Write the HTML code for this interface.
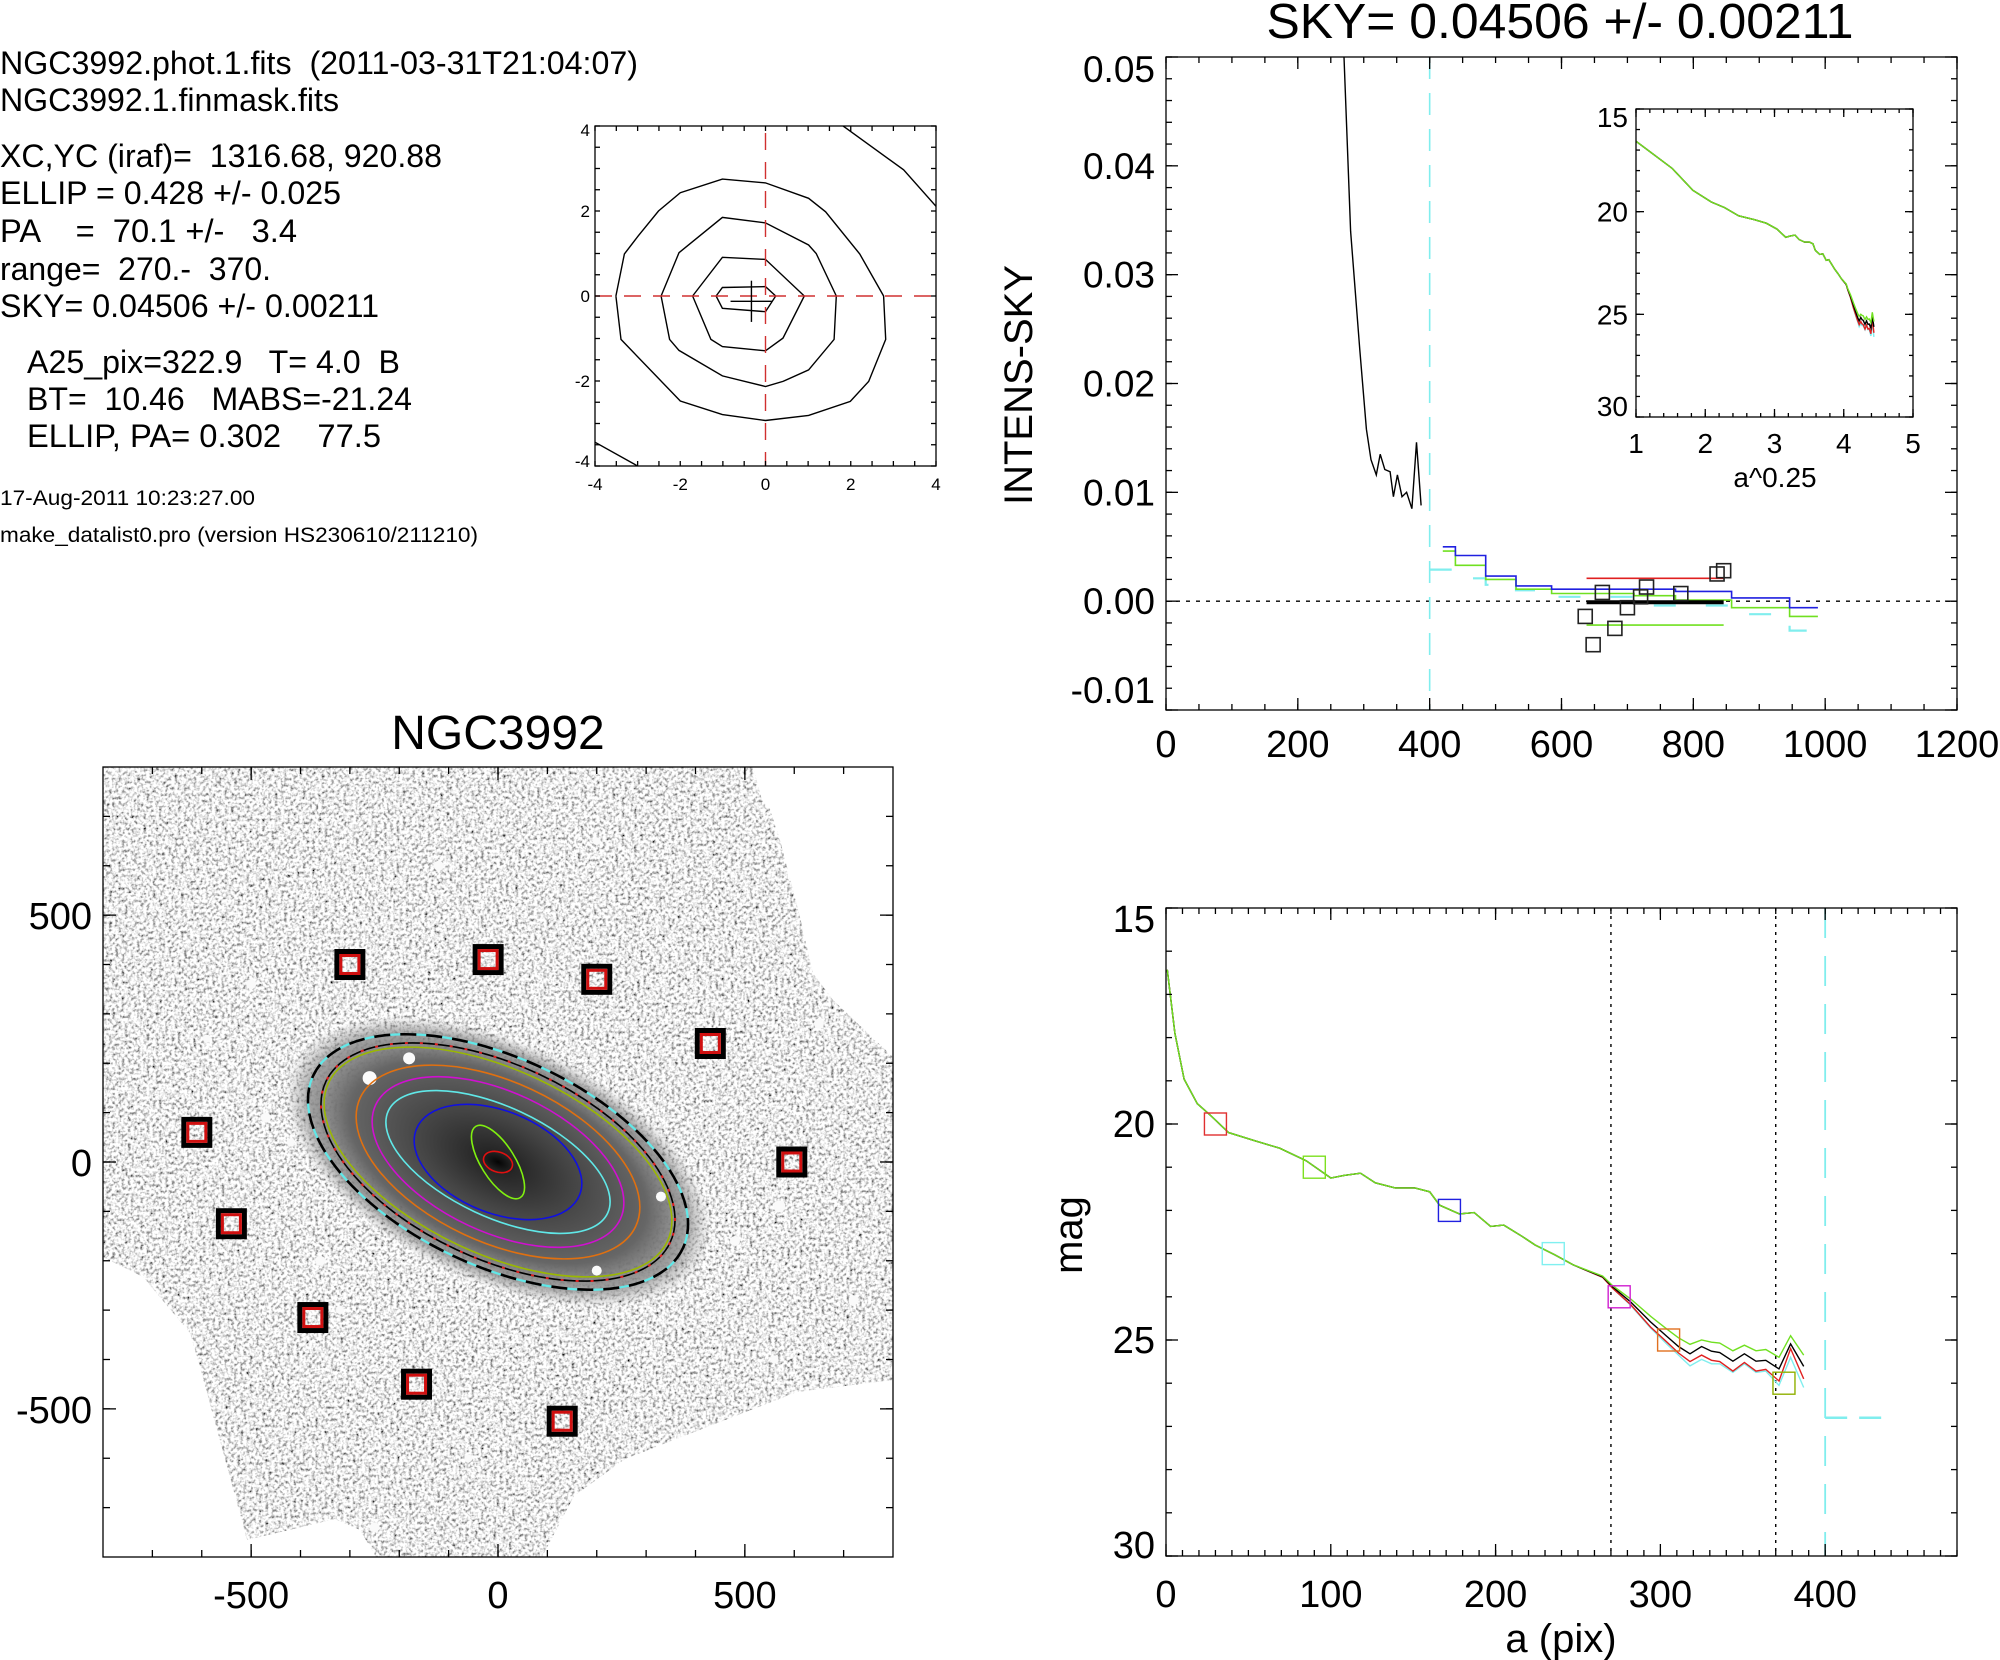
<!DOCTYPE html>
<html><head><meta charset="utf-8">
<style>
html,body{margin:0;padding:0;background:#fff;}
svg{display:block;font-family:"Liberation Sans",Arial,sans-serif;}
</style></head>
<body>
<svg id="fig" width="2000" height="1660" viewBox="0 0 2000 1660" xmlns="http://www.w3.org/2000/svg">
<defs>
  <filter id="noise" x="0" y="0" width="100%" height="100%">
    <feTurbulence type="fractalNoise" baseFrequency="0.32" numOctaves="2" seed="4"/>
    <feColorMatrix type="matrix" values="2.3 0 0 0 -0.32  2.3 0 0 0 -0.32  2.3 0 0 0 -0.32  0 0 0 0 1"/>
  </filter>
  <radialGradient id="galgrad" cx="0.5" cy="0.5" r="0.5">
    <stop offset="0" stop-color="#050505"/>
    <stop offset="0.08" stop-color="#262626"/>
    <stop offset="0.35" stop-color="#444"/>
    <stop offset="0.7" stop-color="#666"/>
    <stop offset="0.88" stop-color="#8a8a8a" stop-opacity="0.8"/>
    <stop offset="1" stop-color="#a0a0a0" stop-opacity="0"/>
  </radialGradient>
  <clipPath id="imgclip"><polygon points="103,767 753,767 762,800 770,809 780,840 800,917 813,973 833,1000 893,1057 893,1380 797,1392 702,1429 625,1459 574,1496 542,1557 376,1557 360,1530 335,1519 247,1540 200,1367 190,1333 143,1277 103,1257"/></clipPath>
  <clipPath id="cliptr"><rect x="1166" y="57" width="791" height="653"/></clipPath>
  <clipPath id="clipin"><rect x="1636" y="109" width="277" height="308"/></clipPath>
  <clipPath id="clipbr"><rect x="1166" y="908" width="791" height="648"/></clipPath>
  <clipPath id="clipct"><rect x="595" y="126" width="341" height="340"/></clipPath>
</defs>

<g font-size="32" fill="#000" xml:space="preserve">
  <text x="0" y="74" textLength="638" lengthAdjust="spacingAndGlyphs" xml:space="preserve">NGC3992.phot.1.fits  (2011-03-31T21:04:07)</text>
  <text x="0" y="111" textLength="339" lengthAdjust="spacingAndGlyphs">NGC3992.1.finmask.fits</text>
  <text x="0" y="167" textLength="442" lengthAdjust="spacingAndGlyphs" xml:space="preserve">XC,YC (iraf)=  1316.68, 920.88</text>
  <text x="0" y="204" textLength="341" lengthAdjust="spacingAndGlyphs">ELLIP = 0.428 +/- 0.025</text>
  <text x="0" y="242" textLength="297" lengthAdjust="spacingAndGlyphs" xml:space="preserve">PA    =  70.1 +/-   3.4</text>
  <text x="0" y="280" textLength="271" lengthAdjust="spacingAndGlyphs" xml:space="preserve">range=  270.-  370.</text>
  <text x="0" y="317" textLength="379" lengthAdjust="spacingAndGlyphs">SKY= 0.04506 +/- 0.00211</text>
  <text x="27" y="373" textLength="373" lengthAdjust="spacingAndGlyphs" xml:space="preserve">A25_pix=322.9   T= 4.0  B</text>
  <text x="27" y="410" textLength="385" lengthAdjust="spacingAndGlyphs" xml:space="preserve">BT=  10.46   MABS=-21.24</text>
  <text x="27" y="447" textLength="354" lengthAdjust="spacingAndGlyphs" xml:space="preserve">ELLIP, PA= 0.302    77.5</text>
  <text x="0" y="505" font-size="21" textLength="255" lengthAdjust="spacingAndGlyphs">17-Aug-2011 10:23:27.00</text>
  <text x="0" y="542" font-size="21" textLength="478" lengthAdjust="spacingAndGlyphs">make_datalist0.pro (version HS230610/211210)</text>
</g>

<g id="contour"></g>
<g id="imgplot"></g>
<g id="skyplot"></g>
<g id="inset"></g>
<g id="magplot"></g>
</svg>

<script>
// ---------- DATA ----------
const contour0 = [[-3.51,0],[-3.31,0.99],[-2.99,1.41],[-2.51,2.0],[-2.0,2.43],[-1.01,2.75],[0,2.66],[1.01,2.3],[1.41,1.98],[2.21,0.99],[2.77,0],[2.82,-1.02],[2.42,-2.01],[1.99,-2.48],[1.01,-2.81],[0,-2.93],[-1.01,-2.79],[-2.0,-2.47],[-2.51,-1.94],[-3.39,-1.02],[-3.51,0]];
const contour1 = [[-2.45,0],[-2.03,1.02],[-1.01,1.85],[0,1.72],[1.01,1.2],[1.19,1.0],[1.66,0],[1.61,-1.02],[1.01,-1.74],[0.41,-2.01],[0,-2.13],[-1.01,-1.88],[-2.03,-1.28],[-2.25,-1.02],[-2.45,0]];
const contour2 = [[-1.71,0],[-1.01,0.91],[0,0.86],[0.91,0],[0.41,-0.99],[0,-1.29],[-1.01,-1.19],[-1.28,-1.02],[-1.71,0]];
const contour3 = [[-1.16,0],[-1.01,0.2],[0,0.22],[0.24,0],[0,-0.37],[-1.01,-0.29],[-1.16,0]];
const contourTR = [[1.82,4],[3.24,2.97],[4,2.11]];
const contourBL = [[-4,-3.44],[-3.0,-4]];
const contourTicks = [-4,-2,0,2,4];

const boxX = [-300,-20,200,430,-610,595,-540,-375,-165,130];
const boxY = [400,410,370,240,60,0,-125,-315,-450,-525];
const imgTicks = [-500,0,500];

const profA = [265,270,280,294,304,311,319,325,332,340,345,351,358,365,373,380,387];
const profI = [0.060,0.050,0.034,0.0231,0.0158,0.0130,0.0116,0.0135,0.0121,0.0119,0.0096,0.0116,0.0096,0.0100,0.0085,0.0146,0.0088];
const stepEdges = [420,439,485,531,585,710,773,858,946,989];
const stepBlue  = [0.0050,0.0042,0.0023,0.0014,0.0011,0.0011,0.0009,0.0003,-0.0006];
const stepGreen = [0.0046,0.0033,0.0020,0.0011,0.0007,0.0005,0.0001,-0.0006,-0.0014];
const cyanEdges = [400,439,485,531,585,710,858,946,989];
const stepCyan  = [0.0029,0.0021,0.0015,0.0010,0.0004,-0.0004,-0.0012,-0.0027];
const skyBoxA = [636,648,662,681,700,720,729,781,836,846];
const skyBoxI = [-0.0014,-0.0040,0.0008,-0.0025,-0.0006,0.0004,0.0013,0.0007,0.0025,0.0028];
const skyRange = [638,846];
const skyRedLevel = 0.0021, skyGreenLevel = -0.0022, skyBlackLevel = -0.0001;
const skyXTicks = [0,200,400,600,800,1000,1200];
const skyYTicks = [-0.01,0.00,0.01,0.02,0.03,0.04,0.05];

const aPix = [0.8,5.4,11,19,27,38,54,69,85,100,108,118,127,139,151,160,166,178,187,197,205,216,224,236,247,265,271,282,294,304,311,318,325,331,336,344,351,358,364,372,379,387];
const magBlack = [16.43,17.9,18.96,19.53,19.8,20.2,20.39,20.56,20.85,21.25,21.19,21.14,21.36,21.48,21.48,21.57,21.88,22.08,22.05,22.37,22.34,22.6,22.8,23.03,23.26,23.54,23.77,24.12,24.58,24.92,25.15,25.32,25.15,25.26,25.29,25.49,25.32,25.49,25.47,25.67,25.09,25.61];
const magGreen = [16.43,17.9,18.96,19.53,19.8,20.2,20.39,20.56,20.85,21.25,21.19,21.14,21.36,21.48,21.48,21.57,21.88,22.08,22.05,22.37,22.34,22.6,22.8,23.03,23.26,23.52,23.74,24.05,24.45,24.75,24.95,25.1,25.0,25.05,25.07,25.25,25.12,25.25,25.22,25.4,24.9,25.35];
const magRed = [16.43,17.9,18.96,19.53,19.8,20.2,20.39,20.56,20.85,21.25,21.19,21.14,21.36,21.48,21.48,21.57,21.88,22.08,22.05,22.37,22.34,22.6,22.8,23.03,23.26,23.55,23.8,24.18,24.7,25.05,25.3,25.5,25.35,25.47,25.5,25.72,25.52,25.72,25.68,25.95,25.2,25.9];
const magCyan = [16.43,17.9,18.96,19.53,19.8,20.2,20.39,20.56,20.85,21.25,21.19,21.14,21.36,21.48,21.48,21.57,21.88,22.08,22.05,22.37,22.34,22.6,22.8,23.03,23.26,23.55,23.8,24.2,24.72,25.1,25.35,25.6,25.45,25.55,25.55,25.75,25.55,25.75,25.72,26.05,25.4,26.1];
const markA = [30,90,172,235,275,305,375];
const markMag = [20.0,21.0,22.0,23.0,24.0,25.0,26.0];
const markColor = ["#e03030","#7ee020","#2020e0","#80f0f0","#d020d0","#e07020","#90b000"];
const magXTicks = [0,100,200,300,400];
const magYTicks = [15,20,25,30];
const insetXTicks = [1,2,3,4,5];
const insetYTicks = [15,20,25,30];
const rangeLines = [270,370];
const skyCut = 400, skyMag = 26.8, skyMagEnd = 435;

// ---------- HELPERS ----------
const NS = "http://www.w3.org/2000/svg";
function mk(parent, tag, attrs, text){
  const e = document.createElementNS(NS, tag);
  for (const k in attrs) e.setAttribute(k, attrs[k]);
  if (text !== undefined) e.textContent = text;
  parent.appendChild(e);
  return e;
}
function lin(d0,d1,p0,p1){ return v => p0 + (v-d0)*(p1-p0)/(d1-d0); }
function frame(g, x0,y0,x1,y1){
  const r = mk(g,'rect',{x:x0,y:y0,width:x1-x0,height:y1-y0,fill:'none',stroke:'#000','stroke-width':1.3});
  
  
}
function ticksX(g, sx, vals, y0, y1, len){
  vals.forEach(v=>{
    const x = sx(v);
    const t1 = mk(g,'line',{x1:x,x2:x,y1:y1,y2:y1-len,stroke:'#000','stroke-width':1.3});
    
    
    const t2 = mk(g,'line',{x1:x,x2:x,y1:y0,y2:y0+len,stroke:'#000','stroke-width':1.3});
    
    
  });
}
function ticksY(g, sy, vals, x0, x1, len){
  vals.forEach(v=>{
    const y = sy(v);
    const t1 = mk(g,'line',{x1:x0,x2:x0+len,y1:y,y2:y,stroke:'#000','stroke-width':1.3});
    
    
    const t2 = mk(g,'line',{x1:x1,x2:x1-len,y1:y,y2:y,stroke:'#000','stroke-width':1.3});
    
    
  });
}
function labY(sy, vals, i, topShift, botShift){
  const v = vals[i];
  let y = sy(v);
  const ys = vals.map(sy);
  if (y === Math.min(...ys)) y += topShift;
  if (y === Math.max(...ys)) y -= botShift;
  return y;
}
function range(a,b,s){ const r=[]; for(let v=a; v<=b+1e-9; v+=s) r.push(+v.toFixed(6)); return r; }
function poly(g, xs, ys, sx, sy, attrs){
  const pts = xs.map((x,i)=> sx(x).toFixed(1)+','+sy(ys[i]).toFixed(1)).join(' ');
  return mk(g,'polyline',Object.assign({points:pts,fill:'none'},attrs));
}

// ---------- CONTOUR PLOT ----------
(function(){
  const g = document.getElementById('contour');
  const sx = lin(-4,4,595,936), sy = lin(-4,4,466,126);
  const cg = mk(g,'g',{'clip-path':'url(#clipct)'});
  [contour0,contour1,contour2,contour3,contourTR,contourBL].forEach(c=>{
    const p = poly(cg, c.map(p=>p[0]), c.map(p=>p[1]), sx, sy, {stroke:'#000','stroke-width':1.4});
    
    
  });
  const v = mk(cg,'line',{x1:sx(0),x2:sx(0),y1:sy(4),y2:sy(-4),stroke:'#d03030','stroke-width':1.4,'stroke-dasharray':'17,12','stroke-dashoffset':'-7'});
  
  
  const h = mk(cg,'line',{x1:sx(-4),x2:sx(4),y1:sy(0),y2:sy(0),stroke:'#d03030','stroke-width':1.4,'stroke-dasharray':'17,12'});
  
  
  const c1 = mk(cg,'line',{x1:sx(-0.33),x2:sx(-0.33),y1:sy(0.36),y2:sy(-0.61),stroke:'#000','stroke-width':1.4});
  
  
  const c2 = mk(cg,'line',{x1:sx(-0.82),x2:sx(0.16),y1:sy(-0.125),y2:sy(-0.125),stroke:'#000','stroke-width':1.4});
  
  
  frame(g,595,126,936,466);
  ticksX(g,sx,range(-4,4,0.5),126,466,5);
  ticksY(g,sy,range(-4,4,0.5),595,936,5);
  contourTicks.forEach((v,i)=>{
    const t = mk(g,'text',{x:sx(v),y:490,'font-size':17,'text-anchor':'middle'},String(v));
    
    
    const u = mk(g,'text',{x:590,y:labY(sy,contourTicks,i,4,5)+6,'font-size':17,'text-anchor':'end'},String(v));
    
    
  });
})();

// ---------- IMAGE PLOT ----------
(function(){
  const g = document.getElementById('imgplot');
  const sx = lin(-800,800,103,893), sy = lin(-800,800,1557,767);
  const ig = mk(g,'g',{'clip-path':'url(#imgclip)'});
  const bg = mk(ig,'rect',{x:103,y:767,width:790,height:790,filter:'url(#noise)'});
  
  
  const cx = sx(0), cy = sy(0);
  const gal = mk(ig,'ellipse',{cx,cy,rx:228,ry:120,fill:'url(#galgrad)',transform:`rotate(25 ${cx} ${cy})`});
  
  
  const stars = [[-500,360,5],[-590,250,4],[-260,170,7],[-180,210,6],[-360,-200,5],[-320,-300,4],[200,-220,5],[570,-90,6],[480,-160,5],[-120,600,5],[200,650,4],[640,550,5],[720,-280,5],[560,-400,4],[-250,-740,5],[-60,-600,4],[-470,90,5],[-420,40,4],[650,280,5],[330,-70,5],[-600,-500,4]];
  stars.forEach(s=>{
    const c = mk(ig,'circle',{cx:sx(s[0]),cy:sy(s[1]),r:s[2],fill:'#fafafa'});
    
    
  });
  const ells = [
    {rx:204,ry:104,rot:25,stroke:'#000',dash:'16,10'},
    {rx:190,ry:97,rot:25,stroke:'#000',dash:null},
    {rx:187,ry:92,rot:25,stroke:'#9ab800',dash:null},
    {rx:152,ry:80,rot:25,stroke:'#e07010',dash:null},
    {rx:135,ry:70,rot:25,stroke:'#d010d0',dash:null},
    {rx:121,ry:55,rot:25,stroke:'#60e8e8',dash:null},
    {rx:88,ry:51,rot:22,stroke:'#1010e0',dash:null},
    {rx:42,ry:17,rot:58,stroke:'#80f010',dash:null},
    {rx:15,ry:10,rot:20,stroke:'#e01010',dash:null}
  ];
  const e0 = mk(g,'ellipse',{cx,cy,rx:204,ry:104,fill:'none',stroke:'#60e8e8','stroke-width':2.2,transform:`rotate(25 ${cx} ${cy})`});
  
  
  ells.forEach(e=>{
    const el = mk(g,'ellipse',{cx,cy,rx:e.rx,ry:e.ry,fill:'none',stroke:e.stroke,'stroke-width':e.dash?2.6:1.6,transform:`rotate(${e.rot} ${cx} ${cy})`});
    if (e.dash) el.setAttribute('stroke-dasharray',e.dash);
    
    
  });
  const rd = mk(g,'ellipse',{cx,cy,rx:190,ry:97,fill:'none',stroke:'#e02020','stroke-width':2,'stroke-dasharray':'3,12',transform:`rotate(25 ${cx} ${cy})`});
  
  
  boxX.forEach((bx,i)=>{
    const x = sx(bx), y = sy(boxY[i]);
    const b = mk(g,'rect',{x:x-13,y:y-13,width:26,height:26,fill:'none',stroke:'#000','stroke-width':5});
    
    
    const r = mk(g,'rect',{x:x-9,y:y-9,width:18,height:18,fill:'none',stroke:'#d01010','stroke-width':3});
    
    
  });
  frame(g,103,767,893,1557);
  ticksX(g,sx,range(-700,700,100),767,1557,7);
  ticksY(g,sy,range(-700,700,100),103,893,7);
  ticksX(g,sx,imgTicks,767,1557,13);
  ticksY(g,sy,imgTicks,103,893,13);
  imgTicks.forEach(v=>{
    const t = mk(g,'text',{x:sx(v),y:1608,'font-size':38,'text-anchor':'middle'},String(v));
    
    
    const u = mk(g,'text',{x:92,y:sy(v)+14,'font-size':38,'text-anchor':'end'},String(v));
    
    
  });
  const tt = mk(g,'text',{x:498,y:749,'font-size':48,'text-anchor':'middle'},'NGC3992');
  
  
})();

// ---------- SKY PLOT ----------
(function(){
  const g = document.getElementById('skyplot');
  const sx = lin(0,1200,1166,1957), sy = lin(-0.01,0.05,710,57);
  const pg = mk(g,'g',{'clip-path':'url(#cliptr)'});
  const zl = mk(pg,'line',{x1:1166,x2:1957,y1:sy(0),y2:sy(0),stroke:'#000','stroke-width':1.4,'stroke-dasharray':'4,6'});
  
  
  const vc = mk(pg,'line',{x1:sx(skyCut),x2:sx(skyCut),y1:57,y2:710,stroke:'#80eeee','stroke-width':1.6,'stroke-dasharray':'22,14'});
  
  
  const pr = poly(pg, profA, profI, sx, sy, {stroke:'#000','stroke-width':1.4});
  
  
  function steps(edges, vals, color, name, dash, w){
    const xs=[], ys=[];
    vals.forEach((v,i)=>{ xs.push(edges[i],edges[i+1]); ys.push(v,v); });
    const a = {stroke:color,'stroke-width':w};
    if (dash) a['stroke-dasharray']=dash;
    const p = poly(pg, xs, ys, sx, sy, a);
    
    
  }
  steps(cyanEdges, stepCyan, '#80eeee', 'cyan-sky-steps', '22,30', 2.2);
  steps(stepEdges, stepGreen, '#70e020', 'green-sky-steps', null, 1.6);
  steps(stepEdges, stepBlue, '#2020e0', 'blue-sky-steps', null, 1.6);
  [[skyRedLevel,'#e02020',1.6,'sky-level-red'],[skyGreenLevel,'#70e020',1.6,'sky-level-green'],[skyBlackLevel,'#000',4,'sky-level-black']].forEach(l=>{
    const ln = mk(pg,'line',{x1:sx(skyRange[0]),x2:sx(skyRange[1]),y1:sy(l[0]),y2:sy(l[0]),stroke:l[1],'stroke-width':l[2]});
    
    
  });
  skyBoxA.forEach((a,i)=>{
    const x=sx(a), y=sy(skyBoxI[i]);
    const r = mk(pg,'rect',{x:x-7,y:y-7,width:14,height:14,fill:'none',stroke:'#222','stroke-width':1.6});
    
    
  });
  frame(g,1166,57,1957,710);
  ticksX(g,sx,range(0,1200,50),57,710,6);
  ticksX(g,sx,skyXTicks,57,710,12);
  ticksY(g,sy,range(-0.01,0.05,0.002),1166,1957,6);
  ticksY(g,sy,skyYTicks,1166,1957,12);
  skyXTicks.forEach(v=>{
    const t = mk(g,'text',{x:sx(v),y:757,'font-size':38,'text-anchor':'middle'},String(v));
    
    
  });
  skyYTicks.forEach((v,i)=>{
    const t = mk(g,'text',{x:1155,y:labY(sy,skyYTicks,i,12,20)+13,'font-size':37,'text-anchor':'end'},v.toFixed(2));
    
    
  });
  const yt = mk(g,'text',{x:0,y:0,'font-size':40,'text-anchor':'middle',transform:'translate(1032,385) rotate(-90)'},'INTENS-SKY');
  
  
  const tt = mk(g,'text',{x:1560,y:38,'font-size':49,'text-anchor':'middle',textLength:587,lengthAdjust:'spacingAndGlyphs'},'SKY= 0.04506 +/- 0.00211');
  
  
})();

// ---------- INSET ----------
(function(){
  const g = document.getElementById('inset');
  const sx = lin(1,5,1636,1913), sy = lin(15,30,109,417);
  const bgr = mk(g,'rect',{x:1636,y:109,width:277,height:308,fill:'#fff'});
  
  
  const pg = mk(g,'g',{'clip-path':'url(#clipin)'});
  const ax = aPix.map(a=>Math.pow(a,0.25));
  [[magCyan,'#80eeee'],[magRed,'#e02020'],[magBlack,'#000'],[magGreen,'#70e020']].forEach(s=>{
    const p = poly(pg, ax, s[0], sx, sy, {stroke:s[1],'stroke-width':1.4});
    
    
  });
  frame(g,1636,109,1913,417);
  ticksX(g,sx,range(1,5,0.2),109,417,4);
  ticksX(g,sx,insetXTicks,109,417,8);
  ticksY(g,sy,range(15,30,1),1636,1913,4);
  ticksY(g,sy,insetYTicks,1636,1913,8);
  insetXTicks.forEach(v=>{
    const t = mk(g,'text',{x:sx(v),y:453,'font-size':28,'text-anchor':'middle'},String(v));
    
    
  });
  insetYTicks.forEach((v,i)=>{
    const t = mk(g,'text',{x:1628,y:labY(sy,insetYTicks,i,8,11)+10,'font-size':28,'text-anchor':'end'},String(v));
    
    
  });
  const xt = mk(g,'text',{x:1775,y:487,'font-size':28,'text-anchor':'middle'},'a^0.25');
  
  
})();

// ---------- MAG PLOT ----------
(function(){
  const g = document.getElementById('magplot');
  const sx = lin(0,480,1166,1957), sy = lin(15,30,908,1556);
  const pg = mk(g,'g',{'clip-path':'url(#clipbr)'});
  rangeLines.forEach(r=>{
    const l = mk(pg,'line',{x1:sx(r),x2:sx(r),y1:908,y2:1556,stroke:'#000','stroke-width':1.4,'stroke-dasharray':'3,5'});
    
    
  });
  const sc = mk(pg,'line',{x1:sx(skyCut),x2:sx(skyCut),y1:908,y2:1556,stroke:'#80eeee','stroke-width':1.8,'stroke-dasharray':'30,18'});
  
  
  const sh = mk(pg,'line',{x1:sx(skyCut),x2:sx(skyMagEnd),y1:sy(skyMag),y2:sy(skyMag),stroke:'#80eeee','stroke-width':2.4,'stroke-dasharray':'22,12'});
  
  
  [[magCyan,'#80eeee','mag-cyan'],[magRed,'#e02020','mag-red'],[magBlack,'#000','mag-black'],[magGreen,'#70e020','mag-green']].forEach(s=>{
    const p = poly(pg, aPix, s[0], sx, sy, {stroke:s[1],'stroke-width':1.4});
    
    
  });
  markA.forEach((a,i)=>{
    const x=sx(a), y=sy(markMag[i]);
    const r = mk(pg,'rect',{x:x-11,y:y-11,width:22,height:22,fill:'none',stroke:markColor[i],'stroke-width':1.4});
    
    
  });
  frame(g,1166,908,1957,1556);
  ticksX(g,sx,range(0,480,10),908,1556,6);
  ticksX(g,sx,magXTicks,908,1556,12);
  ticksY(g,sy,range(15,30,1),1166,1957,6);
  ticksY(g,sy,magYTicks,1166,1957,12);
  magXTicks.forEach(v=>{
    const t = mk(g,'text',{x:sx(v),y:1607,'font-size':38,'text-anchor':'middle'},String(v));
    
    
  });
  magYTicks.forEach((v,i)=>{
    const t = mk(g,'text',{x:1155,y:labY(sy,magYTicks,i,11,11)+13,'font-size':38,'text-anchor':'end'},String(v));
    
    
  });
  const yt = mk(g,'text',{x:0,y:0,'font-size':40,'text-anchor':'middle',transform:'translate(1082,1235) rotate(-90)'},'mag');
  
  
  const xt = mk(g,'text',{x:1561,y:1652,'font-size':40,'text-anchor':'middle'},'a (pix)');
  
  
})();
</script>
</body></html>
